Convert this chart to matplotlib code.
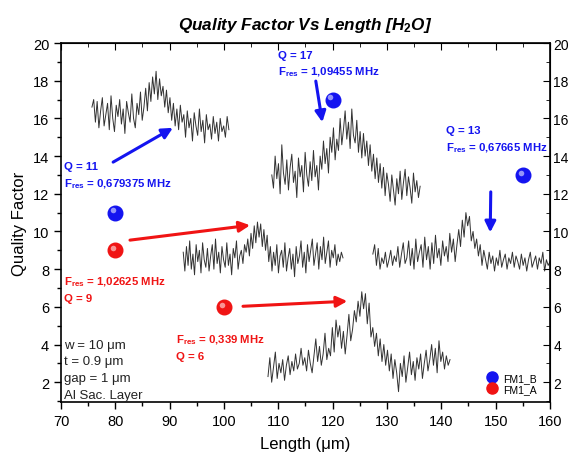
import numpy as np
import matplotlib
matplotlib.use('Agg')
import matplotlib.pyplot as plt
from matplotlib import transforms
from matplotlib.lines import Line2D
from matplotlib.ticker import MultipleLocator

plt.rcParams['font.family'] = ['Liberation Sans', 'DejaVu Sans']
plt.rcParams['mathtext.fontset'] = 'custom'
plt.rcParams['mathtext.rm'] = 'Liberation Sans'
plt.rcParams['mathtext.bf'] = 'Liberation Sans:bold'
plt.rcParams['mathtext.it'] = 'Liberation Sans:italic'

BLUE = '#1414f0'
RED = '#f01414'

# quality factor points
fm1_b_len = [80, 120, 155]
fm1_b_q = [11, 17, 13]
fm1_a_len = [80, 100]
fm1_a_q = [9, 6]

# resonance traces (x span and sampled values)
t1_span = (75.7, 100.9)
t1 = [16.6, 17.0, 15.8, 16.9, 15.5, 16.4, 17.1, 15.6, 16.2, 16.8, 15.4, 17.2, 16.0, 15.3, 16.7, 16.1, 17.0, 15.7, 16.5, 15.2,
      16.9, 16.3, 15.8, 17.3, 16.0, 15.5, 16.8, 16.2, 17.4, 15.9, 16.6, 17.6, 16.4, 17.9, 16.9, 18.2, 17.3, 18.5, 17.0, 18.1,
      17.2, 17.7, 16.6, 17.5, 16.3, 17.1, 15.9, 16.8, 15.6, 16.5, 15.4, 16.7, 15.8, 16.2, 15.0, 16.4, 15.5, 16.0, 14.8, 16.3,
      15.6, 15.1, 16.5, 15.3, 15.9, 14.7, 16.2, 15.4, 15.7, 14.9, 16.1, 15.2, 15.8, 14.8, 16.0, 15.3, 15.6, 15.0, 16.1, 15.4]

t2_span = (108.8, 136.1)
t2 = [13.0, 12.3, 14.0, 12.8, 13.6, 12.0, 14.6, 13.1, 12.5, 13.8, 12.2, 13.4, 14.1, 12.6, 13.2, 11.8, 13.9, 12.9, 13.5, 12.1,
      14.2, 13.0, 12.4, 13.7, 12.7, 14.3, 12.9, 13.5, 12.2, 14.0, 13.3, 14.8, 13.6, 14.4, 13.1, 15.0, 14.2, 15.5, 13.8, 14.9,
      14.3, 16.0, 14.6, 15.4, 16.4, 14.9, 15.8, 14.4, 16.5, 15.1, 14.7, 15.9, 14.2, 15.3, 13.9, 15.2, 14.0, 14.8, 13.5, 14.6,
      13.2, 14.1, 12.8, 13.9, 12.6, 13.6, 12.3, 13.4, 11.9, 13.1, 12.5, 11.6, 13.0, 12.2, 11.4, 12.8, 12.0, 13.2, 11.7, 12.6,
      13.3, 11.9, 12.9, 12.3, 11.5, 13.1, 12.1, 12.7, 11.8, 12.4]

t3_span = (92.5, 121.9)
t3 = [8.9, 7.9, 9.2, 8.2, 9.5, 8.0, 8.8, 7.7, 9.3, 8.4, 9.0, 7.8, 9.4, 8.5, 8.1, 9.1, 7.9, 8.7, 9.3, 8.0,
      9.6, 8.3, 8.9, 7.8, 9.2, 8.5, 8.1, 9.4, 8.2, 8.8, 7.7, 9.1, 8.6, 9.5, 8.0, 8.7, 9.0, 8.3, 9.3, 8.9,
      9.6, 8.7, 9.9, 9.1, 10.3, 9.4, 10.5, 9.7, 10.4, 9.2, 10.1, 9.0, 9.8, 8.4, 9.2, 7.9, 8.9, 8.2, 9.3, 7.8,
      8.7, 9.0, 8.1, 9.4, 7.9, 8.6, 9.1, 8.0, 8.8, 7.6, 9.2, 8.3, 8.7, 9.5, 8.1, 8.9, 7.8, 9.3, 8.4, 9.0,
      9.6, 8.2, 8.8, 9.4, 8.0, 9.2, 8.5, 9.7, 8.3, 8.9, 9.5, 8.1, 9.0, 8.6, 9.3, 8.2, 8.8, 8.4, 8.9, 8.6]

t4_span = (127.4, 160.0)
t4 = [8.8, 9.3, 8.2, 9.1, 8.0, 8.6, 8.3, 8.9, 8.1, 8.5, 9.0, 8.2, 8.7, 8.4, 9.2, 8.1, 8.8, 9.4, 8.3, 8.6,
      9.5, 8.2, 9.1, 8.0, 9.6, 8.4, 8.9, 9.3, 8.1, 9.7, 8.5, 9.2, 8.0, 9.4, 8.3, 9.8, 8.6, 9.1, 8.2, 9.5,
      8.7, 9.2, 8.4, 9.9, 8.9, 9.6, 8.4, 9.3, 10.1, 9.2, 10.6, 9.7, 11.0, 10.3, 10.8, 9.5, 10.0, 9.1, 9.6, 8.7,
      9.3, 8.2, 9.0, 8.5, 8.0, 8.9, 8.3, 8.7, 7.9, 8.6, 8.2, 9.0, 8.1, 8.5, 8.8, 8.0, 8.6, 8.3, 8.9, 8.1,
      8.7, 8.4, 8.0, 8.8, 8.2, 8.6, 7.9, 8.5, 8.9, 8.1, 8.4, 8.7, 8.0, 8.6, 8.3, 8.9, 7.9, 8.5, 8.2, 8.4]

t5_span = (108.1, 141.6)
t5 = [2.3, 3.3, 2.0, 2.8, 3.6, 2.2, 3.0, 2.5, 3.2, 2.1, 2.9, 3.4, 2.4, 3.1, 2.6, 3.5, 2.7, 3.0, 3.8, 2.9,
      3.3, 2.6, 3.7, 3.0, 2.5, 3.4, 4.3, 3.1, 3.9, 2.9, 3.5, 4.6, 3.2, 3.8, 3.4, 4.9, 3.6, 5.3, 4.4, 5.0,
      3.8, 4.7, 3.5, 4.5, 5.6, 4.2, 4.8, 5.8, 5.2, 6.3, 5.5, 6.8, 5.9, 6.7, 5.1, 6.2, 4.4, 4.9, 3.9, 4.6,
      3.4, 4.3, 3.1, 4.0, 2.9, 3.7, 2.6, 3.5, 2.2, 3.2, 2.5, 1.5, 3.0, 2.3, 3.4, 2.0, 2.8, 3.6, 2.4, 3.1,
      2.1, 3.3, 2.7, 3.5, 2.2, 3.0, 3.7, 2.6, 3.2, 4.0, 2.9, 3.8, 2.5, 4.2, 3.1, 3.6, 2.7, 3.4, 2.9, 3.2]

traces = [(t1_span, t1), (t2_span, t2), (t3_span, t3), (t4_span, t4), (t5_span, t5)]

params = ['w = 10 μm', 't = 0.9 μm', 'gap = 1 μm', 'Al Sac. Layer']

fig = plt.figure(figsize=(5.71, 4.60), dpi=100)
ax = fig.add_axes([0.1068, 0.1239, 0.8564, 0.7804])

for span, vals in traces:
    xs = np.linspace(span[0], span[1], len(vals))
    ax.plot(xs, vals, color='#1c1c1c', lw=0.7, alpha=0.9, zorder=2)


def balls(xs, ys, color):
    ax.plot(xs, ys, 'o', ms=10.5, color=color, mec=color, zorder=5)
    hl = transforms.offset_copy(ax.transData, fig=fig, x=-1.6, y=1.6, units='points')
    ax.plot(xs, ys, 'o', ms=4, color='white', alpha=0.55, mec='none', transform=hl, zorder=6)


balls(fm1_b_len, fm1_b_q, BLUE)
balls(fm1_a_len, fm1_a_q, RED)

# annotations
tkw = dict(fontsize=8.2, fontweight='bold', va='center', ha='left')
ax.text(70.55, 13.47, 'Q = 11', color=BLUE, **tkw)
ax.text(70.55, 12.57, r'F$_{\mathbf{res}}$ = 0,679375 MHz', color=BLUE, **tkw)
ax.text(109.9, 19.36, 'Q = 17', color=BLUE, **tkw)
ax.text(109.9, 18.51, r'F$_{\mathbf{res}}$ = 1,09455 MHz', color=BLUE, **tkw)
ax.text(140.9, 15.38, 'Q = 13', color=BLUE, **tkw)
ax.text(140.9, 14.48, r'F$_{\mathbf{res}}$ = 0,67665 MHz', color=BLUE, **tkw)
ax.text(70.55, 7.36, r'F$_{\mathbf{res}}$ = 1,02625 MHz', color=RED, **tkw)
ax.text(70.55, 6.46, 'Q = 9', color=RED, **tkw)
ax.text(91.2, 4.28, r'F$_{\mathbf{res}}$ = 0,339 MHz', color=RED, **tkw)
ax.text(91.2, 3.38, 'Q = 6', color=RED, **tkw)

arrows = [((79.6, 13.68), (90.6, 15.50), BLUE),
          ((116.9, 17.98), (118.1, 15.80), BLUE),
          ((149.1, 12.10), (149.0, 9.95), BLUE),
          ((82.7, 9.54), (104.8, 10.33), RED),
          ((103.5, 6.03), (122.7, 6.30), RED)]
for start, end, c in arrows:
    ax.annotate('', xy=end, xytext=start,
                arrowprops=dict(arrowstyle='-|>', color=c, lw=2.2, mutation_scale=16,
                                shrinkA=0, shrinkB=0), zorder=7)

for i, line in enumerate(params):
    ax.text(70.55, 4.0 - 0.9 * i, line, fontsize=9.5, va='center', ha='left', color='#222222')

handles = [Line2D([], [], marker='o', ls='none', ms=8, color=BLUE, label='FM1_B'),
           Line2D([], [], marker='o', ls='none', ms=8, color=RED, label='FM1_A')]
ax.legend(handles=handles, loc='lower right', bbox_to_anchor=(0.99, 0.0), frameon=False,
          fontsize=7.5, handletextpad=0.5, labelspacing=0.1, borderpad=0.3, handlelength=1.2)

ax.set_xlim(70, 160)
ax.set_ylim(0.95, 20)
ax.xaxis.set_major_locator(MultipleLocator(10))
ax.xaxis.set_minor_locator(MultipleLocator(5))
ax.yaxis.set_major_locator(MultipleLocator(2))
ax.yaxis.set_minor_locator(MultipleLocator(1))
ax.tick_params(axis='both', which='both', labelsize=10.5, width=1, color='black')
ax.tick_params(axis='both', which='major', length=5)
ax.tick_params(axis='both', which='minor', length=3)
ax.tick_params(axis='x', which='both', direction='out', top=False)
ax.tick_params(axis='y', which='both', direction='out', right=False)

sec = ax.secondary_xaxis('top')
sec.set_xticks(np.arange(70, 161, 10))
sec.xaxis.set_minor_locator(MultipleLocator(5))
sec.tick_params(which='both', direction='in', labeltop=False)
sec.tick_params(which='major', length=5)
sec.tick_params(which='minor', length=3)
secy = ax.secondary_yaxis('right')
secy.set_yticks(np.arange(2, 21, 2))
secy.yaxis.set_minor_locator(MultipleLocator(1))
secy.tick_params(which='both', direction='in', labelsize=10)
secy.tick_params(which='major', length=5, pad=2.5)
secy.tick_params(which='minor', length=3)
for s in ax.spines.values():
    s.set_linewidth(1.2)

ax.set_xlabel('Length (μm)', fontsize=12, labelpad=6)
ax.set_ylabel('Quality Factor', fontsize=12, labelpad=4)
ax.set_title(r'Quality Factor Vs Length [H$_{\mathbf{2}}$O]', fontsize=12.3,
             fontweight='bold', fontstyle='italic', pad=10)

fig.savefig('out.png', dpi=100)
